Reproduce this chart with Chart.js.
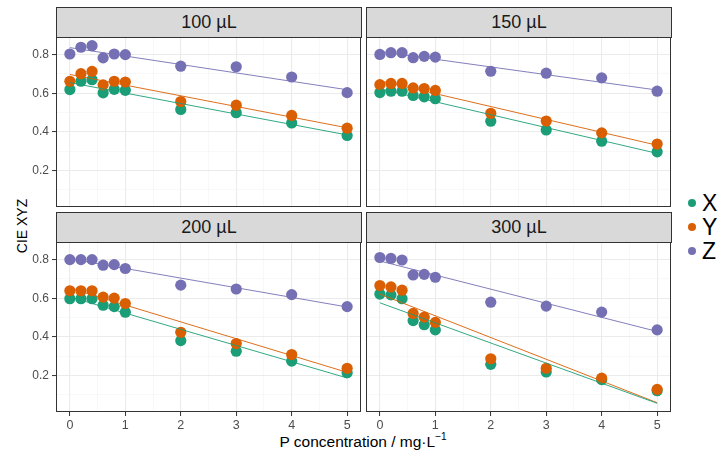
<!DOCTYPE html>
<html><head><meta charset="utf-8">
<script src="https://cdn.jsdelivr.net/npm/chart.js@4.4.0/dist/chart.umd.min.js"></script>
<style>
html,body{margin:0;padding:0;background:#fff;}
body{width:727px;height:460px;position:relative;overflow:hidden;font-family:"Liberation Sans",Arial,sans-serif;}
canvas{position:absolute;}
.strip{position:absolute;box-sizing:border-box;background:#d9d9d9;border:1px solid #333;color:#1a1a1a;font-size:18px;text-align:center;line-height:29px;}
.ytitle{position:absolute;left:22px;top:226px;transform:translate(-50%,-50%) rotate(-90deg);font-size:14px;color:#000;white-space:nowrap;}
.xtitle{position:absolute;left:363px;top:441px;transform:translate(-50%,-50%);font-size:15.5px;color:#000;white-space:nowrap;}
.xtitle sup{font-size:10px;}
.leg{position:absolute;left:686px;font-size:23px;color:#000;}
.leg span.dot{position:absolute;left:2px;top:-4px;width:8px;height:8px;border-radius:50%;}
.leg span.lab{position:absolute;left:16px;top:-14px;line-height:28px;}
</style></head><body>
<div class="ytitle">CIE XYZ</div>
<div class="xtitle">P concentration / mg·L<sup>−1</sup></div>
<script>
// ---- data ----
const conc = [0, 0.2, 0.4, 0.6, 0.8, 1, 2, 3, 4, 5];
const panelLabels = ['100 µL', '150 µL', '200 µL', '300 µL'];
const seriesNames = ['X', 'Y', 'Z'];

const x100 = [0.619, 0.662, 0.670, 0.602, 0.620, 0.615, 0.516, 0.499, 0.446, 0.381];
const y100 = [0.662, 0.701, 0.713, 0.643, 0.662, 0.658, 0.557, 0.538, 0.485, 0.419];
const z100 = [0.803, 0.838, 0.846, 0.783, 0.803, 0.800, 0.740, 0.737, 0.684, 0.603];

const x150 = [0.603, 0.610, 0.610, 0.588, 0.581, 0.571, 0.455, 0.410, 0.352, 0.297];
const y150 = [0.644, 0.650, 0.650, 0.627, 0.624, 0.614, 0.496, 0.456, 0.395, 0.337];
const z150 = [0.800, 0.809, 0.809, 0.783, 0.790, 0.786, 0.713, 0.703, 0.679, 0.610];

const x200 = [0.598, 0.598, 0.598, 0.564, 0.557, 0.528, 0.381, 0.326, 0.275, 0.215];
const y200 = [0.639, 0.639, 0.639, 0.606, 0.601, 0.573, 0.424, 0.366, 0.309, 0.238];
const z200 = [0.800, 0.800, 0.800, 0.771, 0.774, 0.754, 0.668, 0.648, 0.619, 0.557];

const x300 = [0.621, 0.617, 0.597, 0.484, 0.463, 0.436, 0.258, 0.219, 0.179, 0.122];
const y300 = [0.665, 0.658, 0.641, 0.521, 0.502, 0.475, 0.287, 0.238, 0.187, 0.129];
const z300 = [0.810, 0.805, 0.797, 0.720, 0.723, 0.708, 0.579, 0.559, 0.528, 0.436];

// fitted straight lines, values at conc 0 and conc 5
const fitEnds = [0, 5];
const fitX100 = [0.655, 0.384], fitY100 = [0.697, 0.421], fitZ100 = [0.836, 0.618];
const fitX150 = [0.622, 0.289], fitY150 = [0.664, 0.331], fitZ150 = [0.815, 0.616];
const fitX200 = [0.607, 0.188], fitY200 = [0.652, 0.217], fitZ200 = [0.804, 0.555];
const fitX300 = [0.576, 0.057], fitY300 = [0.621, 0.060], fitZ300 = [0.792, 0.428];

const xMajor = [0, 1, 2, 3, 4, 5];
const xMinor = [0.5, 1.5, 2.5, 3.5, 4.5];
const xTickLabels = ['0', '1', '2', '3', '4', '5'];
const yMajor = [0.2, 0.4, 0.6, 0.8];
const yMinor = [0.1, 0.3, 0.5, 0.7];
const yTickLabels = ['0.2', '0.4', '0.6', '0.8'];

// ---- styling / layout ----
const colors = {X: '#1b9e77', Y: '#d95f02', Z: '#7570b3'};
const panelData = [
  {X: x100, Y: y100, Z: z100, fX: fitX100, fY: fitY100, fZ: fitZ100},
  {X: x150, Y: y150, Z: z150, fX: fitX150, fY: fitY150, fZ: fitZ150},
  {X: x200, Y: y200, Z: z200, fX: fitX200, fY: fitY200, fZ: fitZ200},
  {X: x300, Y: y300, Z: z300, fX: fitX300, fY: fitY300, fZ: fitZ300}
];
// target plot areas
const layout = [
  {left: 56,  top: 37,  w: 305, h: 170, yw: 56, xh: 0,  showY: true,  showX: false},
  {left: 366, top: 37,  w: 305, h: 170, yw: 0,  xh: 0,  showY: false, showX: false},
  {left: 56,  top: 242, w: 305, h: 170, yw: 56, xh: 25, showY: true,  showX: true},
  {left: 366, top: 242, w: 305, h: 170, yw: 0,  xh: 25, showY: false, showX: true}
];
const strips = [
  {left: 56, top: 7, w: 306, h: 31},
  {left: 366, top: 7, w: 306, h: 31},
  {left: 56, top: 212, w: 306, h: 31},
  {left: 366, top: 212, w: 306, h: 31}
];

const isIn = (arr, v) => arr.some(a => Math.abs(a - v) < 1e-9);
const FONT = '"Liberation Sans", Arial, sans-serif';

const borderPlugin = {
  id: 'panelBorder',
  afterDraw(chart) {
    const {ctx, chartArea: a} = chart;
    ctx.save();
    ctx.strokeStyle = '#333333';
    ctx.lineWidth = 1;
    ctx.strokeRect(Math.round(a.left) + 0.5, Math.round(a.top) + 0.5, Math.round(a.right - a.left) - 1, Math.round(a.bottom - a.top) - 1);
    ctx.restore();
  }
};

strips.forEach((s, i) => {
  const d = document.createElement('div');
  d.className = 'strip';
  d.style.left = s.left + 'px'; d.style.top = s.top + 'px';
  d.style.width = s.w + 'px'; d.style.height = s.h + 'px';
  d.textContent = panelLabels[i];
  document.body.appendChild(d);
});

// legend
seriesNames.forEach((n, i) => {
  const d = document.createElement('div');
  d.className = 'leg';
  d.style.top = (203 + i * 24) + 'px';
  d.innerHTML = '<span class="dot" style="background:' + colors[n] + '"></span><span class="lab">' + n + '</span>';
  document.body.appendChild(d);
});

function makeConfig(L, pd) {
  const datasets = [];
  seriesNames.forEach((n) => {
    datasets.push({
      label: n + ' fit',
      data: fitEnds.map((c, i) => ({x: c, y: pd['f' + n][i]})),
      showLine: true, pointRadius: 0, borderColor: colors[n], borderWidth: 0.9,
      backgroundColor: colors[n], order: 0
    });
  });
  seriesNames.forEach((n, k) => {
    datasets.push({
      label: n,
      data: conc.map((c, i) => ({x: c, y: pd[n][i]})),
      showLine: false, pointRadius: 5.6, pointHoverRadius: 5.6, pointBorderWidth: 0,
      backgroundColor: colors[n], borderColor: colors[n], order: 3 - k
    });
  });
  return {
    type: 'scatter',
    data: {datasets},
    plugins: [borderPlugin],
    options: {
      responsive: false, maintainAspectRatio: false, animation: false, devicePixelRatio: 1,
      layout: {padding: 0, autoPadding: false},
      plugins: {legend: {display: false}, tooltip: {enabled: false}},
      scales: {
        x: {
          type: 'linear', min: -0.25, max: 5.25,
          afterBuildTicks: s => { s.ticks = xMajor.concat(xMinor).sort((a, b) => a - b).map(v => ({value: v})); },
          afterFit: s => { s.height = L.xh; },
          border: {display: false},
          grid: {
            drawTicks: L.showX, tickLength: 4,
            color: c => isIn(xMajor, c.tick.value) ? '#ebebeb' : '#f4f4f4',
            lineWidth: c => isIn(xMajor, c.tick.value) ? 1.1 : 0.6,
            tickColor: c => isIn(xMajor, c.tick.value) ? '#333333' : 'rgba(0,0,0,0)',
            tickWidth: 1
          },
          ticks: {
            display: L.showX, padding: 2, color: '#4d4d4d', maxRotation: 0, autoSkip: false,
            font: {family: FONT, size: 12.5},
            callback: v => { const i = xMajor.findIndex(a => Math.abs(a - v) < 1e-9); return i >= 0 ? xTickLabels[i] : ''; }
          }
        },
        y: {
          type: 'linear', min: 0.012, max: 0.89,
          afterBuildTicks: s => { s.ticks = yMinor.concat(yMajor).sort((a, b) => a - b).map(v => ({value: v})); },
          afterFit: s => { s.width = L.yw; },
          border: {display: false},
          grid: {
            drawTicks: L.showY, tickLength: 4,
            color: c => isIn(yMajor, c.tick.value) ? '#ebebeb' : '#f4f4f4',
            lineWidth: c => isIn(yMajor, c.tick.value) ? 1.1 : 0.6,
            tickColor: c => isIn(yMajor, c.tick.value) ? '#333333' : 'rgba(0,0,0,0)',
            tickWidth: 1
          },
          ticks: {
            display: L.showY, padding: 3, color: '#4d4d4d', autoSkip: false,
            font: {family: FONT, size: 12},
            callback: v => { const i = yMajor.findIndex(a => Math.abs(a - v) < 1e-9); return i >= 0 ? yTickLabels[i] : ''; }
          }
        }
      }
    }
  };
}

layout.forEach((L, p) => {
  const pd = panelData[p];
  // first pass: measure how much space the library reserves around the plot area
  const probe = document.createElement('canvas');
  probe.width = L.w + 100; probe.height = L.h + 100;
  probe.style.left = '0px'; probe.style.top = '0px'; probe.style.visibility = 'hidden';
  document.body.appendChild(probe);
  const c0 = new Chart(probe, makeConfig(L, pd));
  const a0 = c0.chartArea;
  const extraW = probe.width - (a0.right - a0.left);
  const extraH = probe.height - (a0.bottom - a0.top);
  const offL = a0.left, offT = a0.top;
  c0.destroy();
  probe.remove();
  // second pass: real chart with plot area at the target place
  const cv = document.createElement('canvas');
  const W = Math.round(L.w + extraW), H = Math.round(L.h + extraH);
  cv.width = W; cv.height = H;
  cv.style.width = W + 'px'; cv.style.height = H + 'px';
  cv.style.left = Math.round(L.left - offL) + 'px';
  cv.style.top = Math.round(L.top - offT) + 'px';
  document.body.appendChild(cv);
  new Chart(cv, makeConfig(L, pd));
});
</script>
</body></html>
